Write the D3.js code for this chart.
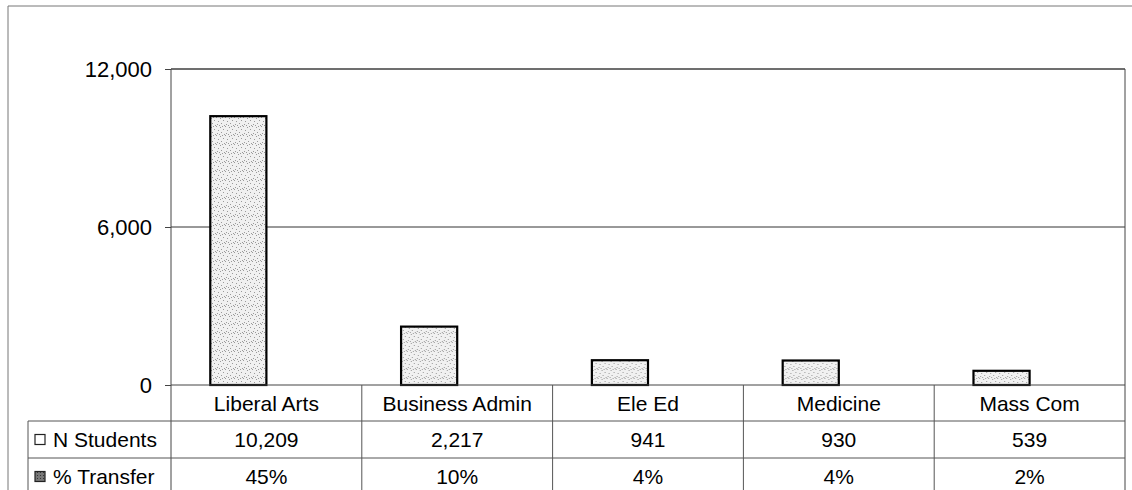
<!DOCTYPE html>
<html>
<head>
<meta charset="utf-8">
<script src="https://cdn.jsdelivr.net/npm/d3@7"></script>
<style>
  body { margin: 0; background: #fff; }
  text { font-family: Arial, "Liberation Sans", sans-serif; fill: #000; }
</style>
</head>
<body>
<div id="chart-container"></div>
<script>
const categories = ["Liberal Arts", "Business Admin", "Ele Ed", "Medicine", "Mass Com"];
const seriesNames = ["N Students", "% Transfer"];
const nStudents = [10209, 2217, 941, 930, 539];
const pctTransfer = [45, 10, 4, 4, 2];
const yTicks = [0, 6000, 12000];

const width = 1132, height = 490;
const plot = { left: 171, right: 1125, top: 69, bottom: 385 };
const rowLines = [385, 421, 458, 495];
const legendLeft = 28;

const svg = d3.select("#chart-container")
  .append("svg")
  .attr("width", width)
  .attr("height", height);

// stipple texture like the scanned bars
const defs = svg.append("defs");
const pat = defs.append("pattern")
  .attr("id", "stip")
  .attr("patternUnits", "userSpaceOnUse")
  .attr("width", 9).attr("height", 9);
pat.append("rect").attr("width", 9).attr("height", 9).attr("fill", "#f1f1f1");
[[0, 0], [4, 1], [7, 3], [2, 4], [5, 6], [1, 7], [8, 8], [6, 0], [3, 8]].forEach(p => {
  pat.append("rect").attr("x", p[0]).attr("y", p[1]).attr("width", 1).attr("height", 1).attr("fill", "#9a9a9a");
});
const pat2 = defs.append("pattern")
  .attr("id", "stip2")
  .attr("patternUnits", "userSpaceOnUse")
  .attr("width", 3).attr("height", 3);
pat2.append("rect").attr("width", 3).attr("height", 3).attr("fill", "#777");
pat2.append("rect").attr("x", 1).attr("y", 1).attr("width", 1).attr("height", 1).attr("fill", "#333");

// outer frame
svg.append("path")
  .attr("d", `M8,${height} V6 H${width}`)
  .attr("fill", "none")
  .attr("stroke", "#777")
  .attr("stroke-width", 1);

const x = d3.scaleBand()
  .domain(categories)
  .range([plot.left, plot.right]);

const xs = d3.scaleBand()
  .domain(seriesNames)
  .range([0, x.bandwidth()])
  .paddingInner(0)
  .paddingOuter(0.7);

const y = d3.scaleLinear()
  .domain([0, 12000])
  .range([plot.bottom, plot.top]);

// gridlines
svg.append("g")
  .selectAll("line")
  .data(yTicks.filter(d => d > 0))
  .join("line")
  .attr("x1", plot.left).attr("x2", plot.right)
  .attr("y1", d => y(d)).attr("y2", d => y(d))
  .attr("stroke", "#333").attr("stroke-width", 1);

// y axis
const yAxis = svg.append("g")
  .attr("transform", `translate(${plot.left},0)`)
  .call(d3.axisLeft(y).tickValues(yTicks).tickSize(6).tickPadding(13).tickFormat(d3.format(",")));
yAxis.select(".domain").remove();
yAxis.selectAll("line").attr("stroke", "#444");
yAxis.selectAll("text")
  .style("font-size", "22px")
  .style("font-family", "Arial, 'Liberation Sans', sans-serif")
  .attr("fill", "#000");

// bars
const table = categories.map((c, i) => ({ cat: c, values: [nStudents[i], pctTransfer[i] / 100] }));

svg.append("g")
  .selectAll("g")
  .data(table)
  .join("g")
  .attr("transform", d => `translate(${x(d.cat)},0)`)
  .selectAll("rect")
  .data(d => d.values.map((v, j) => ({ key: seriesNames[j], v })))
  .join("rect")
  .attr("x", d => xs(d.key))
  .attr("y", d => y(d.v))
  .attr("width", xs.bandwidth())
  .attr("height", d => y(0) - y(d.v))
  .attr("fill", d => d.key === "N Students" ? "url(#stip)" : "url(#stip2)")
  .attr("stroke", d => d.key === "N Students" ? "#000" : "none")
  .attr("stroke-width", 2.2);

// plot frame: top, right, bottom, left (left runs down through the table)
const frame = svg.append("g").attr("stroke", "#444").attr("fill", "none");
frame.append("path").attr("d", `M${plot.left},${plot.top} H${plot.right} V${height}`);
frame.append("path").attr("d", `M${plot.left},${plot.top} V${height}`);
frame.append("line")
  .attr("x1", plot.left).attr("x2", plot.right)
  .attr("y1", plot.bottom).attr("y2", plot.bottom);

// data table grid
const grid = svg.append("g").attr("stroke", "#555").attr("stroke-width", 1);
categories.slice(1).forEach(c => {
  grid.append("line")
    .attr("x1", x(c)).attr("x2", x(c))
    .attr("y1", plot.bottom).attr("y2", height);
});
rowLines.slice(1, 3).forEach(r => {
  grid.append("line")
    .attr("x1", legendLeft).attr("x2", plot.right)
    .attr("y1", r).attr("y2", r);
});
grid.append("line")
  .attr("x1", legendLeft).attr("x2", legendLeft)
  .attr("y1", rowLines[1]).attr("y2", height);

// header row
svg.append("g")
  .selectAll("text")
  .data(categories)
  .join("text")
  .attr("x", d => x(d) + x.bandwidth() / 2)
  .attr("y", (rowLines[0] + rowLines[1]) / 2)
  .attr("dy", "0.36em")
  .attr("text-anchor", "middle")
  .style("font-size", "21px")
  .text(d => d);

// value rows
const rows = [
  { name: seriesNames[0], vals: nStudents.map(d3.format(",")) },
  { name: seriesNames[1], vals: pctTransfer.map(d => d + "%") }
];

rows.forEach((r, i) => {
  const cy = (rowLines[i + 1] + rowLines[i + 2]) / 2;
  const g = svg.append("g");
  g.selectAll("text")
    .data(r.vals)
    .join("text")
    .attr("x", (d, k) => x(categories[k]) + x.bandwidth() / 2)
    .attr("y", cy)
    .attr("dy", "0.36em")
    .attr("text-anchor", "middle")
    .style("font-size", "21px")
    .text(d => d);

  g.append("rect")
    .attr("x", 35).attr("y", cy - 5)
    .attr("width", 10).attr("height", 10)
    .attr("fill", i === 0 ? "#fff" : "url(#stip2)")
    .attr("stroke", "#222").attr("stroke-width", 1.2);

  g.append("text")
    .attr("x", 53)
    .attr("y", cy)
    .attr("dy", "0.36em")
    .style("font-size", "21px")
    .text(r.name);
});
</script>
</body>
</html>
